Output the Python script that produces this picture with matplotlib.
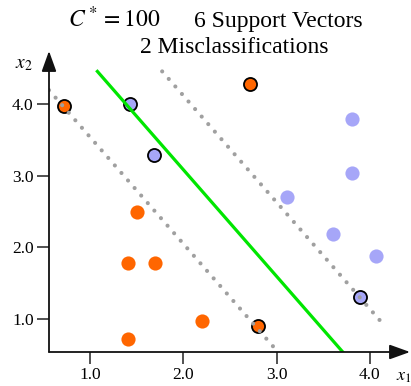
import numpy as np
import matplotlib
matplotlib.use("Agg")
import matplotlib.pyplot as plt

plt.rcParams["font.family"] = ["Liberation Serif", "DejaVu Serif"]
plt.rcParams["mathtext.fontset"] = "stix"

# class -1 (orange) and class +1 (blue) points
orange_x = [0.72, 2.72, 2.80, 1.50, 1.41, 1.70, 2.20, 1.41]
orange_y = [3.97, 4.28, 0.90, 2.49, 1.79, 1.79, 0.98, 0.72]
orange_sv = [True, True, True, False, False, False, False, False]

blue_x = [1.43, 1.69, 3.89, 3.81, 3.81, 3.11, 3.60, 4.07]
blue_y = [4.00, 3.29, 1.31, 3.79, 3.04, 2.70, 2.19, 1.88]
blue_sv = [True, True, True, False, False, False, False, False]

# separating hyperplane w.x + b = 0, margins at +-1
w = [1.44, 0.97]
b = -5.87

x_ticks = [1.0, 2.0, 3.0, 4.0]
y_ticks = [1.0, 2.0, 3.0, 4.0]

xmin, xmax = 0.56, 4.43
ymin, ymax = 0.545, 4.734

fig = plt.figure(figsize=(4.11, 3.86), dpi=100)
ax = fig.add_axes([49 / 411, 34 / 386, 361 / 411, 301 / 386])
ax.set_xlim(xmin, xmax)
ax.set_ylim(ymin, ymax)
for s in ax.spines.values():
    s.set_visible(False)

orange = "#ff6600"
blue = "#a6a6f8"

def draw_points(xs, ys, sv, color):
    xs, ys, sv = np.array(xs), np.array(ys), np.array(sv)
    ax.plot(xs[~sv], ys[~sv], "o", ms=10.2, color=color, mec="none", zorder=2)
    ax.plot(xs[sv], ys[sv], "o", ms=9.4, color=color, mec="black", mew=1.3, zorder=2)

draw_points(orange_x, orange_y, orange_sv, orange)
draw_points(blue_x, blue_y, blue_sv, blue)

# decision boundary and margins, kept inside the drawing box
clip_x = (0.56, 4.15)
clip_y = (0.545, 4.45)
for off in (-1, 0, 1):
    xa = (off - b - w[1] * clip_y[1]) / w[0]
    xb = (off - b - w[1] * clip_y[0]) / w[0]
    xa, xb = max(xa, clip_x[0]), min(xb, clip_x[1])
    xx = np.array([xa, xb])
    yy = (off - b - w[0] * xx) / w[1]
    if off == 0:
        ax.plot(xx, yy, color="#00e600", lw=2.3, zorder=3)
    else:
        ax.plot(xx, yy, color="#a0a0a0", lw=3.0, ls=(0, (0.001, 2.4)),
                dash_capstyle="round", zorder=3)

# axes with arrow heads
arrow = dict(arrowstyle="-|>,head_length=1.25,head_width=0.45", color="#111111",
             lw=1.3, mutation_scale=10, shrinkA=0, shrinkB=0)
ax.annotate("", xy=(xmin, ymax), xytext=(xmin, ymin), arrowprops=arrow, annotation_clip=False)
ax.annotate("", xy=(xmax, ymin), xytext=(xmin, ymin), arrowprops=arrow, annotation_clip=False)

ax.set_xticks(x_ticks)
ax.set_yticks(y_ticks)
ax.set_xticklabels([f"{t:.1f}" for t in x_ticks])
ax.set_yticklabels([f"{t:.1f}" for t in y_ticks])
ax.tick_params(direction="out", length=8.5, width=1.1, color="#222222",
               labelsize=12.5, pad=2.5)

fig.text(15 / 411, 1 - 68 / 386, "$x_2$", fontsize=14, ha="left", va="baseline")
fig.text(396 / 411, 1 - 381 / 386, "$x_1$", fontsize=13, ha="left", va="baseline")

fig.text(68 / 411, 1 - 27 / 386, "$C^*=100$", fontsize=17, ha="left", va="baseline")
fig.text(194 / 411, 1 - 27 / 386, "6 Support Vectors", fontsize=17, ha="left", va="baseline")
fig.text(234 / 411, 1 - 53 / 386, "2 Misclassifications", fontsize=17, ha="center", va="baseline")

fig.savefig("out.png", dpi=100)
